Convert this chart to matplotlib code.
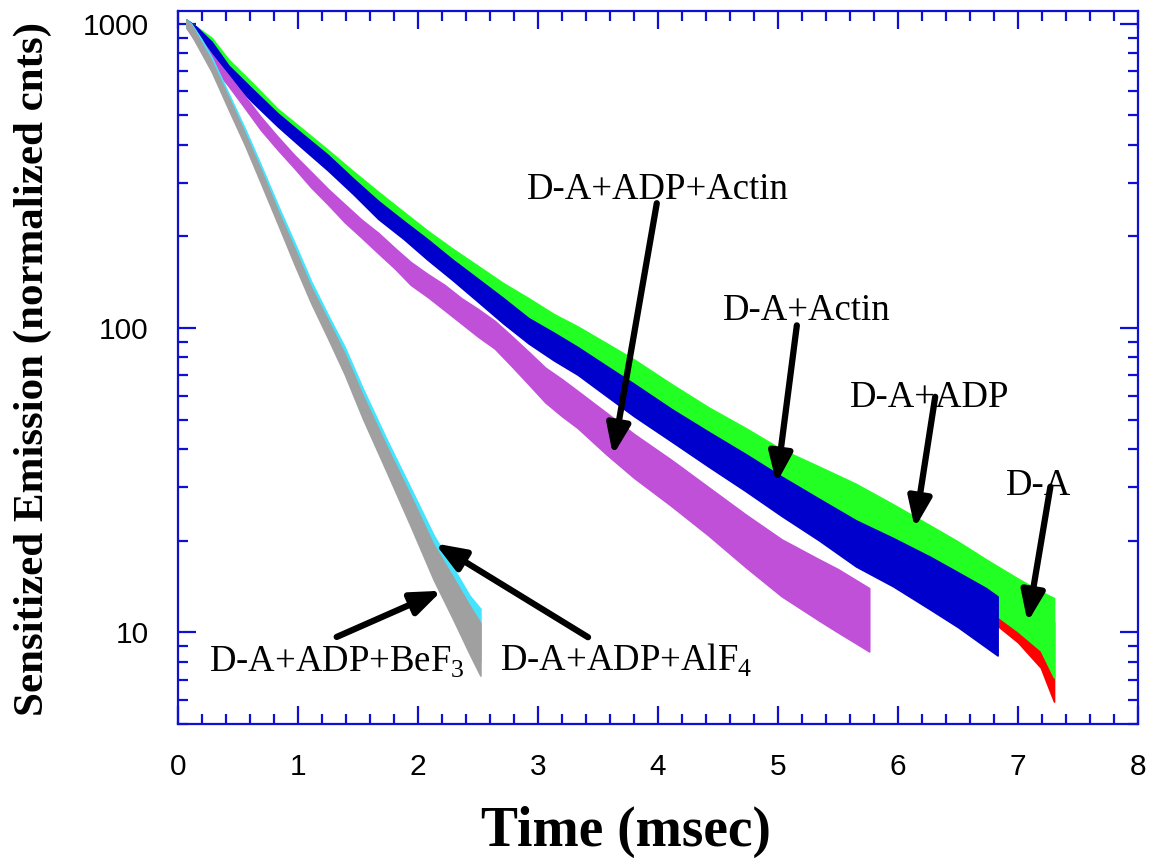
import numpy as np
import matplotlib
matplotlib.use("Agg")
import matplotlib.pyplot as plt
from matplotlib.ticker import MultipleLocator, LogLocator, NullFormatter, FixedFormatter, FixedLocator

plt.rcParams['mathtext.fontset'] = 'custom'
plt.rcParams['mathtext.rm'] = 'Liberation Serif'

# ---- data (time in msec, normalized counts) ----
# mid = centre of the noisy trace, spread = half-width of the noise band (ratio)
t_top = [0.07, 0.15, 0.28, 0.42, 0.62, 0.83, 1.04, 1.25, 1.46, 1.67, 1.88, 2.08, 2.29,
         2.5, 2.71, 2.92, 3.13, 3.33, 3.57, 3.8, 4.11, 4.42, 4.73, 5.03, 5.34, 5.65,
         5.96, 6.27, 6.5, 6.73, 7.0, 7.19, 7.3]
green_mid = [1000, 945, 864, 733, 610, 502, 428, 366, 310, 264, 227, 195, 170,
             148, 130, 115, 102, 92, 81, 71, 59, 49, 41.5, 35, 30.5, 26.5,
             22.5, 19, 16.7, 14.5, 12.3, 10.9, 9.6]
green_spread = [1.03, 1.035, 1.04, 1.04, 1.045, 1.045, 1.05, 1.05, 1.055, 1.06, 1.06, 1.07, 1.07,
                1.08, 1.08, 1.09, 1.09, 1.10, 1.10, 1.11, 1.11, 1.12, 1.13, 1.14, 1.15, 1.16,
                1.17, 1.18, 1.19, 1.20, 1.22, 1.25, 1.35]
red_mid = [1000, 942, 850, 718, 598, 494, 420, 358, 302, 256, 220, 189, 164,
           142, 124, 109, 97, 87, 76, 67, 56, 46.5, 39, 33, 28.5, 24.5,
           21, 18, 15.8, 13.8, 11.5, 9.8, 8.0]
red_spread = [1.03, 1.035, 1.04, 1.04, 1.045, 1.045, 1.05, 1.05, 1.06, 1.06, 1.07, 1.07, 1.08,
              1.08, 1.09, 1.09, 1.10, 1.10, 1.11, 1.12, 1.12, 1.13, 1.14, 1.15, 1.16, 1.17,
              1.18, 1.20, 1.21, 1.22, 1.24, 1.28, 1.35]

t_blue = [0.07, 0.15, 0.28, 0.42, 0.62, 0.83, 1.04, 1.25, 1.46, 1.67, 1.88, 2.08, 2.29,
          2.5, 2.71, 2.92, 3.13, 3.33, 3.57, 3.8, 4.11, 4.42, 4.73, 5.03, 5.34, 5.65,
          5.96, 6.27, 6.5, 6.73, 6.83]
blue_mid = [1000, 940, 834, 697, 580, 483, 410, 349, 292, 244, 210, 181, 155,
            133, 114, 98, 87, 78, 67, 58, 48, 40, 33.5, 28, 23.5, 19.6,
            17, 14.5, 12.8, 11.2, 10.5]
blue_spread = [1.03, 1.04, 1.045, 1.045, 1.05, 1.05, 1.055, 1.06, 1.06, 1.07, 1.07, 1.08, 1.08,
               1.09, 1.10, 1.10, 1.11, 1.11, 1.12, 1.13, 1.13, 1.14, 1.15, 1.16, 1.17, 1.19,
               1.20, 1.22, 1.23, 1.25, 1.25]

t_violet = [0.07, 0.15, 0.28, 0.42, 0.56, 0.69, 0.83, 0.97, 1.11, 1.25, 1.39, 1.53, 1.67,
            1.81, 1.94, 2.08, 2.22, 2.36, 2.5, 2.64, 2.78, 2.92, 3.06, 3.2, 3.33, 3.57,
            3.8, 4.11, 4.42, 4.73, 5.03, 5.34, 5.5, 5.76]
violet_mid = [1000, 900, 762, 650, 550, 470, 405, 352, 307, 270, 238, 212, 190,
              169, 151, 138, 126, 114, 104, 95, 84, 74, 65, 59, 54, 45,
              38, 31, 25, 20, 16.3, 13.8, 12.7, 11]
violet_spread = [1.03, 1.035, 1.04, 1.04, 1.045, 1.05, 1.05, 1.05, 1.06, 1.06, 1.07, 1.07, 1.08,
                 1.08, 1.09, 1.09, 1.10, 1.10, 1.11, 1.11, 1.12, 1.13, 1.14, 1.15, 1.15, 1.17,
                 1.18, 1.19, 1.20, 1.22, 1.24, 1.26, 1.27, 1.27]

t_fast = [0.07, 0.11, 0.19, 0.28, 0.42, 0.56, 0.69, 0.83, 0.97, 1.11, 1.25, 1.39, 1.54,
          1.74, 1.93, 2.13, 2.29, 2.43, 2.52]
gray_mid = [1000, 955, 840, 724, 548, 415, 315, 232, 172, 128, 99, 76, 55,
            37, 25.5, 17, 13, 10.2, 8.8]
cyan_mid = [1000, 965, 860, 745, 565, 430, 327, 242, 180, 134, 103, 80, 58,
            39, 27, 18.3, 14, 11, 9.8]
fast_spread = [1.03, 1.035, 1.04, 1.04, 1.045, 1.045, 1.05, 1.05, 1.06, 1.06, 1.07, 1.08, 1.09,
               1.10, 1.12, 1.14, 1.17, 1.20, 1.22]

series = [
    (t_top, red_mid, red_spread, '#FF0000'),
    (t_top, green_mid, green_spread, '#22FF22'),
    (t_blue, blue_mid, blue_spread, '#0000CC'),
    (t_violet, violet_mid, violet_spread, '#C050D8'),
    (t_fast, cyan_mid, fast_spread, '#44E4FF'),
    (t_fast, gray_mid, fast_spread, '#A0A0A0'),
]

# labels: (text, text pos, arrow start, arrow tip) in data units
labels = [
    ('D-A+ADP+Actin', (4.0, 266), (3.99, 257), (3.625, 38.2)),
    ('D-A+Actin', (5.24, 106), (5.157, 102), (4.987, 30.9)),
    ('D-A+ADP', (6.26, 55), (6.31, 59.4), (6.14, 22.0)),
    ('D-A', (7.175, 28.2), (7.27, 30.1), (7.08, 10.8)),
    ('D-A+ADP+AlF$_\\mathrm{4}$', (3.733, 7.5), (3.417, 9.64), (2.142, 19.6)),
    ('D-A+ADP+BeF$_\\mathrm{3}$', (1.321, 7.4), (1.3225, 9.66), (2.1975, 13.7)),
]

axis_blue = '#1010D0'

fig = plt.figure(figsize=(11.76, 8.67), dpi=100)
ax = fig.add_axes([178 / 1176, 143 / 867, 960 / 1176, 713 / 867])

for z, (t, mid, spr, col) in enumerate(series):
    mid = np.array(mid)
    spr = np.array(spr)
    ax.fill_between(t, mid / spr, mid * spr, color=col, lw=1.2, edgecolor=col, zorder=2 + z)

ax.set_yscale('log')
ax.set_xlim(0, 8)
ax.set_ylim(5, 1100)

ax.xaxis.set_major_locator(FixedLocator(range(9)))
ax.xaxis.set_minor_locator(MultipleLocator(0.2))
ax.yaxis.set_major_locator(FixedLocator([10, 100, 1000]))
ax.yaxis.set_major_formatter(FixedFormatter(['10', '100', '1000']))
ax.yaxis.set_minor_locator(LogLocator(base=10, subs=np.arange(2, 10)))
ax.yaxis.set_minor_formatter(NullFormatter())

ax.tick_params(which='both', direction='in', top=True, right=True, color=axis_blue, width=1.6)
ax.tick_params(which='major', length=13, labelsize=21.5, pad=21)
ax.tick_params(which='minor', length=7.5)
for lab in ax.get_xticklabels() + ax.get_yticklabels():
    lab.set_fontfamily('Liberation Sans')
for sp in ax.spines.values():
    sp.set_color(axis_blue)
    sp.set_linewidth(1.6)

xl = ax.set_xlabel('Time (msec)', fontfamily='Liberation Serif', fontweight='bold', fontsize=40)
xl.set_va('center')
ax.xaxis.set_label_coords((626 - 178) / 960, (724 - 832) / 713)
yl = ax.set_ylabel('Sensitized Emission (normalized cnts)', fontfamily='Liberation Serif',
                   fontweight='bold', fontsize=31)
yl.set_va('center')
ax.yaxis.set_label_coords((33 - 178) / 960, (724 - 369) / 713)

for text, tpos, start, tip in labels:
    ax.text(tpos[0], tpos[1], text, fontfamily='Liberation Serif', fontsize=26.5,
            ha='center', va='baseline', zorder=20)
    ax.annotate('', xy=tip, xytext=start, zorder=21,
                arrowprops=dict(arrowstyle='-|>,head_length=0.9,head_width=0.35',
                                lw=4.5, color='black', mutation_scale=20,
                                shrinkA=0, shrinkB=0))

fig.savefig('out.png', dpi=100)
